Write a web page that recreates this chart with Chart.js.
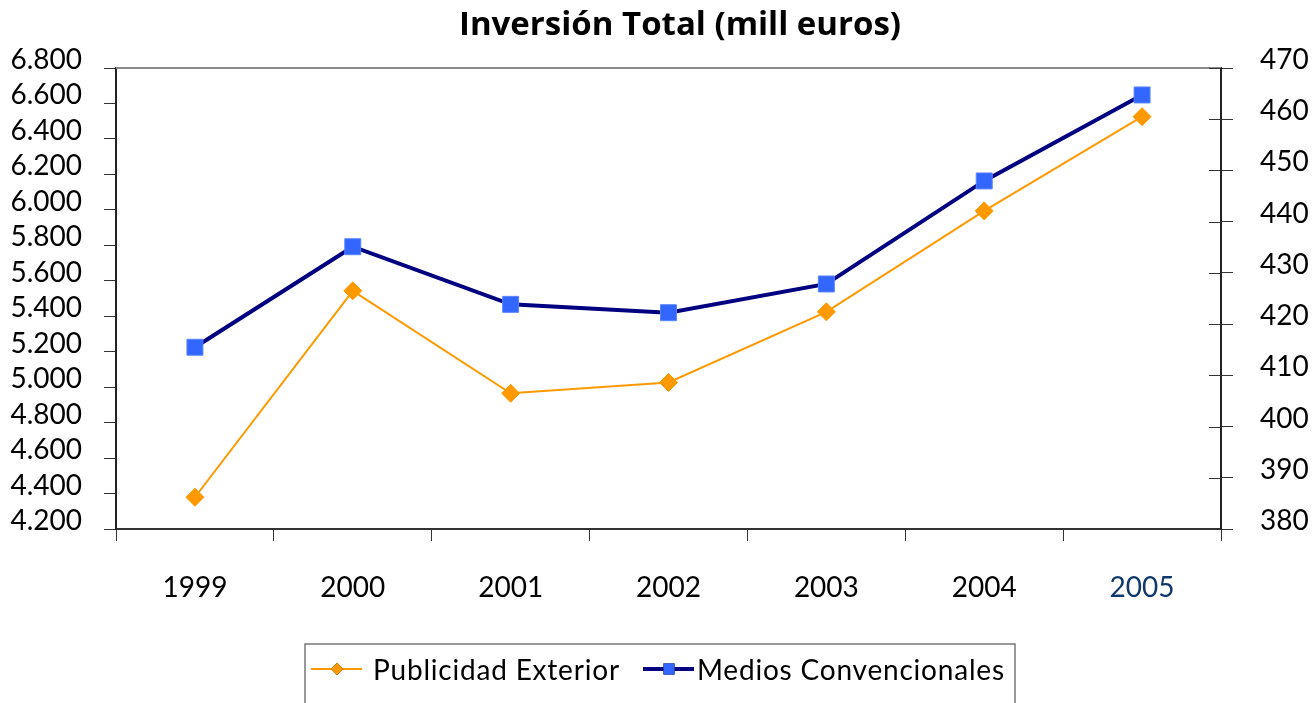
<!DOCTYPE html>
<html>
<head>
<meta charset="utf-8">
<title>Inversión Total</title>
<script src="https://cdn.jsdelivr.net/npm/chart.js@4"></script>
<style>
    body { margin: 0; background: #fff; }
    canvas { display: block; }
</style>
</head>
<body>
<canvas id="inversionChart" width="1312" height="703"></canvas>
<script>
// Chart data
const years = ['1999', '2000', '2001', '2002', '2003', '2004', '2005'];
const publicidadExterior = [386.2, 426.5, 406.5, 408.6, 422.4, 442.1, 460.5];
const mediosConvencionales = [5225, 5792, 5467, 5420, 5582, 6163, 6648];
const seriesNames = ['Publicidad Exterior', 'Medios Convencionales'];
const chartTitle = 'Inversión Total (mill euros)';

const FONT = 'Lato, "Open Sans", sans-serif';

// Spanish style thousands separator: 6800 -> 6.800
function formatThousands(value) {
    return String(value).replace(/\B(?=(\d{3})+(?!\d))/g, '.');
}

// Title, frame, crossing ticks on the right axis and the boxed legend
const framePlugin = {
    id: 'frame',
    afterDraw(chart) {
        const ctx = chart.ctx;
        const area = chart.chartArea;
        const right = chart.scales.y1;

        ctx.save();
        // title
        ctx.fillStyle = '#000';
        ctx.font = 'bold 33px "Open Sans", Lato, sans-serif';
        ctx.textAlign = 'center';
        ctx.textBaseline = 'middle';
        ctx.fillText(chartTitle, 680, 26);

        // top border of the plot area
        ctx.strokeStyle = '#8a8a8a';
        ctx.lineWidth = 2;
        ctx.beginPath();
        ctx.moveTo(area.left, area.top);
        ctx.lineTo(area.right, area.top);
        ctx.stroke();

        // inner half of the right axis ticks
        ctx.strokeStyle = '#333';
        ctx.lineWidth = 1;
        right.ticks.forEach((t, i) => {
            const y = Math.round(right.getPixelForTick(i)) + 0.5;
            ctx.beginPath();
            ctx.moveTo(area.right - 12, y);
            ctx.lineTo(area.right, y);
            ctx.stroke();
        });

        // legend
        const boxLeft = 305, boxTop = 644, boxWidth = 710, boxHeight = 70;
        ctx.strokeStyle = '#777';
        ctx.lineWidth = 1.5;
        ctx.strokeRect(boxLeft, boxTop, boxWidth, boxHeight);

        const midY = 669;
        const items = [
            { ds: chart.data.datasets[0], x: 311, textX: 373 },
            { ds: chart.data.datasets[1], x: 643, textX: 697 }
        ];
        ctx.font = '28px ' + FONT;
        ctx.textAlign = 'left';
        ctx.letterSpacing = '0.8px';
        items.forEach(item => {
            const ds = item.ds;
            ctx.strokeStyle = ds.borderColor;
            ctx.lineWidth = ds.borderWidth;
            ctx.beginPath();
            ctx.moveTo(item.x, midY);
            ctx.lineTo(item.x + 51, midY);
            ctx.stroke();
            Chart.helpers.drawPoint(ctx, {
                pointStyle: ds.pointStyle,
                radius: ds.pointRadius * 0.7,
                borderWidth: 0
            }, item.x + 26, midY);
            ctx.fillStyle = ds.pointBackgroundColor;
            ctx.fill();
            ctx.fillStyle = '#000';
            ctx.fillText(ds.label, item.textX, midY + 2);
        });
        ctx.restore();
    }
};

function initializeChart() {
    const ctx = document.getElementById('inversionChart').getContext('2d');

    const data = {
        labels: years,
        datasets: [{
            label: seriesNames[0],
            data: publicidadExterior,
            yAxisID: 'y1',
            borderColor: '#FF9900',
            borderWidth: 2,
            pointStyle: 'rectRot',
            pointRadius: 9,
            pointBackgroundColor: '#FF9900',
            pointBorderColor: '#FF9900',
            pointBorderWidth: 1,
            tension: 0
        }, {
            label: seriesNames[1],
            data: mediosConvencionales,
            yAxisID: 'y',
            borderColor: '#000080',
            borderWidth: 4,
            pointStyle: 'rect',
            pointRadius: 11.3,
            pointBackgroundColor: '#3366FF',
            pointBorderColor: '#5a85ff',
            pointBorderWidth: 1,
            tension: 0
        }]
    };

    const tickFont = { family: FONT, size: 28 };

    const config = {
        type: 'line',
        data: data,
        options: {
            responsive: false,
            devicePixelRatio: 1,
            animation: false,
            layout: {
                padding: { left: 0, right: 0, top: 68, bottom: 0 }
            },
            plugins: {
                legend: { display: false },
                tooltip: { enabled: false },
                title: { display: false }
            },
            scales: {
                x: {
                    offset: true,
                    grid: {
                        offset: true,
                        drawOnChartArea: false,
                        tickLength: 12,
                        color: '#333'
                    },
                    border: { color: '#333', width: 2 },
                    ticks: {
                        padding: 30,
                        font: tickFont,
                        color: c => c.index === years.length - 1 ? '#10386b' : '#000'
                    },
                    afterFit: scale => { scale.height = 174; }
                },
                y: {
                    position: 'left',
                    min: 4200,
                    max: 6800,
                    grid: {
                        drawOnChartArea: false,
                        tickLength: 12,
                        color: '#333'
                    },
                    border: { color: '#222', width: 2 },
                    ticks: {
                        stepSize: 200,
                        autoSkip: false,
                        padding: 22,
                        labelOffset: -8,
                        font: tickFont,
                        color: '#000',
                        callback: v => formatThousands(v)
                    },
                    afterFit: scale => { scale.width = 116; }
                },
                y1: {
                    position: 'right',
                    min: 380,
                    max: 470,
                    grid: {
                        drawOnChartArea: false,
                        tickLength: 12,
                        color: '#333'
                    },
                    border: { color: '#222', width: 2 },
                    ticks: {
                        stepSize: 10,
                        autoSkip: false,
                        padding: 27,
                        labelOffset: -8,
                        font: tickFont,
                        color: '#000'
                    },
                    afterFit: scale => { scale.width = 91; }
                }
            }
        },
        plugins: [framePlugin]
    };

    new Chart(ctx, config);
}

document.addEventListener('DOMContentLoaded', initializeChart);
</script>
</body>
</html>
